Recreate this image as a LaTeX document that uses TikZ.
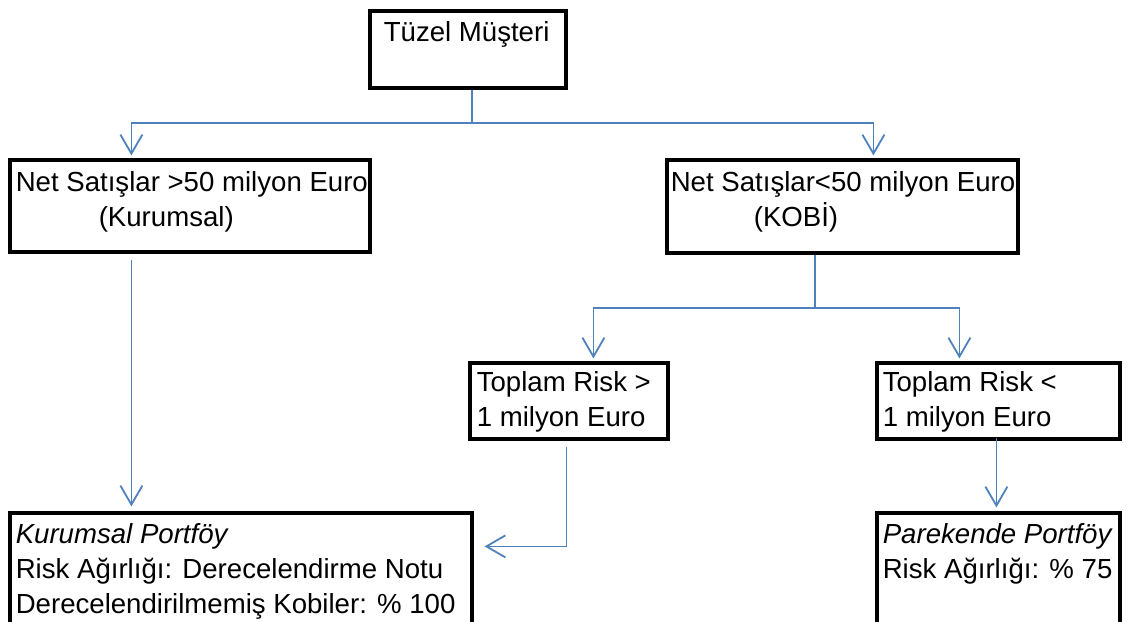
\documentclass[tikz,border=0pt]{standalone}
\usepackage{fontspec}
\setmainfont{Liberation Sans}
\usetikzlibrary{arrows.meta, calc, fit}
\definecolor{lineblue}{RGB}{79,129,189}
\tikzset{
	box/.style={draw, line width=1.6pt, inner sep=0pt},
	txt/.style={anchor=base west, inner sep=0pt, font=\fontsize{13.8}{17}\selectfont},
	flow/.style={draw=lineblue, line width=0.9pt},
	arr/.style={flow, -{Straight Barb[length=9.5pt,width=11pt]}}
}

\begin{document}
\begin{tikzpicture}[x=0.5pt, y=-0.5pt]
	\useasboundingbox (0,0) rectangle (1129,621);
	\clip (0,0) rectangle (1129,621);
	
	% --- Boxes ---
	\node[box, fit={(370,11) (566,88)}] (musteri) {};
	\node[box, fit={(10,160) (370,252)}] (kurumsal) {};
	\node[box, fit={(667,160) (1018,253)}] (kobi) {};
	\node[box, fit={(470,363) (668,439)}] (buyukrisk) {};
	\node[box, fit={(877,363) (1120,439)}] (kucukrisk) {};
	\node[box, fit={(10,513) (472,650)}] (kurumsalport) {};
	\node[box, fit={(877,513) (1120,650)}] (parekende) {};
	
	% --- Texts ---
	\node[txt] (musteri-a) at ($(musteri.north west)+(15,32)$) {Tüzel Müşteri};
	
	\node[txt] (kurumsal-a) at ($(kurumsal.north west)+(7,33)$) {Net Satışlar >50 milyon Euro};
	\node[txt] (kurumsal-b) at ($(kurumsal.north west)+(90,68)$) {(Kurumsal)};
	
	\node[txt] (kobi-a) at ($(kobi.north west)+(5,33)$) {Net Satışlar<50 milyon Euro};
	\node[txt] (kobi-b) at ($(kobi.north west)+(88,68)$) {(KOBİ)};
	
	\node[txt] (buyukrisk-a) at ($(buyukrisk.north west)+(8,30)$) {Toplam Risk >};
	\node[txt] (buyukrisk-b) at ($(buyukrisk.north west)+(8,65)$) {1 milyon Euro};
	
	\node[txt] (kucukrisk-a) at ($(kucukrisk.north west)+(7,30)$) {Toplam Risk <};
	\node[txt] (kucukrisk-b) at ($(kucukrisk.north west)+(7,65)$) {1 milyon Euro};
	
	\node[txt] (kurumsalport-a) at ($(kurumsalport.north west)+(7,32)$) {\itshape Kurumsal Portföy};
	\node[txt] (kurumsalport-b) at ($(kurumsalport.north west)+(7,67)$) {Risk Ağırlığı: Derecelendirme Notu};
	\node[txt] (kurumsalport-c) at ($(kurumsalport.north west)+(7,102)$) {Derecelendirilmemiş Kobiler: \% 100};
	
	\node[txt] (parekende-a) at ($(parekende.north west)+(7,32)$) {\itshape Parekende Portföy};
	\node[txt] (parekende-b) at ($(parekende.north west)+(7,67)$) {Risk Ağırlığı: \% 75};
	
	% --- Connectors ---
	\coordinate (dal1) at (472,123);
	\coordinate (dal2) at (815,308);
	\draw[flow] (musteri.south -| dal1) -- (dal1);
	\draw[arr] (dal1) -| ($(kurumsal.north west)+(123,-3)$);
	\draw[arr] (dal1) -| ($(kobi.north west)+(208,-3)$);
	\draw[arr] ($(kurumsal.south west)+(123,6)$) -- ($(kurumsalport.north west)+(123,-5)$);
	
	\draw[flow] (kobi.south -| dal2) -- (dal2);
	\draw[arr] (dal2) -| ($(buyukrisk.north west)+(125,-3)$);
	\draw[arr] (dal2) -| ($(kucukrisk.north west)+(84,-3)$);
	\draw[arr] ($(buyukrisk.south west)+(98,6)$) |- ($(kurumsalport.north east)+(11,35)$);
	\draw[arr] ($(kucukrisk.south west)+(121,-3)$) -- ($(parekende.north west)+(121,-4)$);
\end{tikzpicture}
\end{document}
